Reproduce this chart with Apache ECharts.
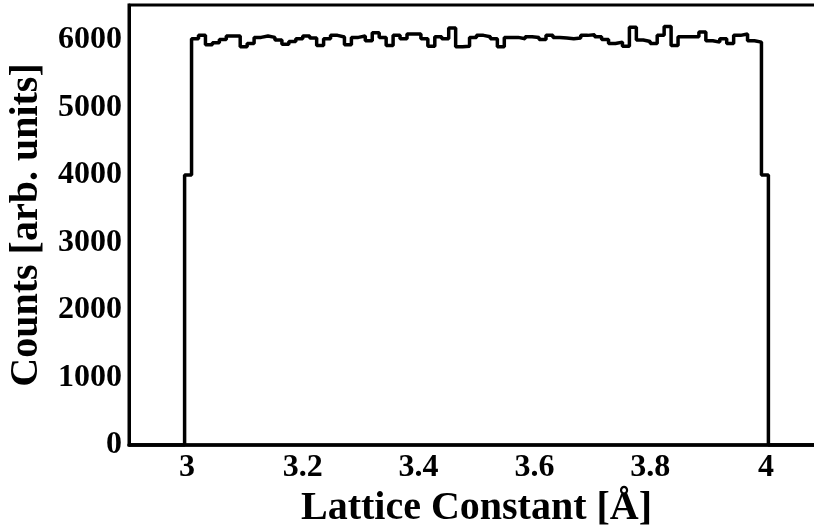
<!DOCTYPE html>
<html>
<head>
<meta charset="utf-8">
<script src="https://cdn.jsdelivr.net/npm/echarts@6/dist/echarts.min.js"></script>
<style>
html,body{margin:0;padding:0;background:#fff;}
#c{width:814px;height:525px;}
</style>
</head>
<body>
<div id="c"></div>
<script>
// Histogram: 100 bins from 2.9 to 4.1
const binStart = 2.9;
const binWidth = 0.012;
const counts = [
  0,0,0,0,0,0,0,0,
  4000,
  6020,6070,5930,5960,6010,6060,6060,5900,5950,6040,6060,6040,6000,5940,5980,6020,
  6060,6030,5920,6020,6070,6045,5930,6040,6060,5990,6110,6040,5920,6070,6020,6090,
  6090,6020,5910,6050,6020,6180,5900,5910,6040,6070,6050,6020,5900,6040,6040,6020,6050,
  6040,6010,6070,6040,6030,6020,6030,6070,6080,6050,6010,5950,5970,5910,6190,6000,
  5980,5950,6070,6200,5920,6050,6050,6050,6120,5990,5970,6020,5950,6070,6090,5990,5970,
  4000,
  0,0,0,0,0,0,0,0
];
const xTicks = [3, 3.2, 3.4, 3.6, 3.8, 4];
const yTicks = [0, 1000, 2000, 3000, 4000, 5000, 6000];
const xName = 'Lattice Constant [Å]';
const yName = 'Counts [arb. units]';

const pts = counts.map((v, i) => [Number((binStart + i * binWidth).toFixed(4)), v]);
pts.push([Number((binStart + counts.length * binWidth).toFixed(4)), 0]);

const font = 'Liberation Serif';
const chart = echarts.init(document.getElementById('c'), null, {renderer: 'canvas'});
chart.setOption({
  animation: false,
  backgroundColor: '#fff',
  grid: {
    left: 129, top: 5, width: 695, height: 440,
    show: true, borderColor: '#000', borderWidth: 3,
    containLabel: false, outerBoundsMode: 'none'
  },
  xAxis: {
    type: 'value', min: 2.9, max: 4.1,
    name: xName, nameLocation: 'middle', nameGap: 34,
    nameTextStyle: {fontFamily: font, fontWeight: 'bold', fontSize: 40, color: '#000'},
    axisLine: {show: true, lineStyle: {color: '#000', width: 3.5}},
    axisTick: {show: false},
    splitLine: {show: false},
    axisLabel: {
      customValues: xTicks, margin: 7,
      formatter: v => String(v),
      fontFamily: font, fontWeight: 'bold', fontSize: 32, color: '#000'
    }
  },
  yAxis: {
    type: 'value', min: 0, max: 6520,
    name: yName, nameLocation: 'middle', nameGap: 78, nameRotate: 90,
    nameTextStyle: {fontFamily: font, fontWeight: 'bold', fontSize: 40, color: '#000'},
    axisLine: {show: true, lineStyle: {color: '#000', width: 3}},
    axisTick: {show: false},
    splitLine: {show: false},
    axisLabel: {
      customValues: yTicks, margin: 7,
      formatter: v => String(v),
      fontFamily: font, fontWeight: 'bold', fontSize: 32, color: '#000'
    }
  },
  series: [{
    type: 'line', step: 'end', data: pts, symbol: 'none',
    lineStyle: {color: '#000', width: 3.5}
  }]
});
</script>
</body>
</html>
